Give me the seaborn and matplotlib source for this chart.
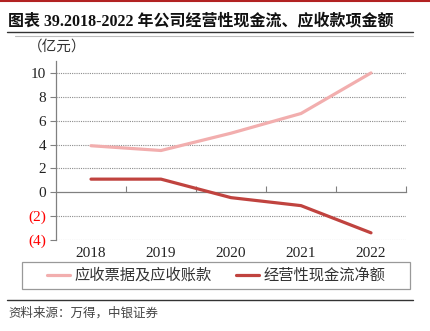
import matplotlib
matplotlib.use("Agg")
import matplotlib.pyplot as plt
import matplotlib.lines as mlines
import matplotlib.patches as mpatches
import seaborn as sns
import pandas as pd

years = ["2018", "2019", "2020", "2021", "2022"]
receivables = [3.9, 3.5, 4.95, 6.6, 10.0]
op_cashflow = [1.1, 1.1, -0.45, -1.12, -3.4]
series_names = ["应收票据及应收账款", "经营性现金流净额"]
y_ticks = [-4, -2, 0, 2, 4, 6, 8, 10]
y_tick_labels = ["(4)", "(2)", "0", "2", "4", "6", "8", "10"]
title = "图表 39.2018-2022 年公司经营性现金流、应收款项金额"
unit_label = "（亿元）"
source = "资料来源：万得，中银证券"

colors = ["#F2AEAE", "#C0433F"]

df = pd.DataFrame({
    "year": years * 2,
    "value": receivables + op_cashflow,
    "series": [series_names[0]] * len(years) + [series_names[1]] * len(years),
})
df["x"] = df["year"].map({y: i for i, y in enumerate(years)})

sns.set_theme(style="white")
plt.rcParams["font.family"] = ["Liberation Serif", "Noto Sans CJK SC"]

fig = plt.figure(figsize=(4.31, 3.31), dpi=100)
ax = fig.add_axes([56 / 431, 1 - 240 / 331, 350 / 431, 179 / 331])

sns.lineplot(data=df, x="x", y="value", hue="series", palette=colors,
             linewidth=2.3, ax=ax, legend=False, sort=False)

ymin, ymax = -4, 11
ax.set_xlim(-0.5, len(years) - 0.5)
ax.set_ylim(ymin, ymax)
ax.set_yticks(y_ticks)
ax.set_yticklabels(y_tick_labels)
for t, v in zip(ax.get_yticklabels(), y_ticks):
    t.set_color("#FF0000" if v < 0 else "#222222")
    t.set_fontsize(11)
ax.set_xticks(range(len(years)))
ax.set_xticklabels(years, fontsize=11, color="#222222")
ax.tick_params(axis="x", length=0, pad=5)
ax.tick_params(axis="y", length=4, width=0.8, color="#808080", pad=3, direction="out", left=True)
ax.set_xlabel("")
ax.set_ylabel("")

for v in y_ticks:
    if v != 0:
        ax.axhline(v, color="#8C8C8C", linewidth=0.8, linestyle=(0, (1, 1)), zorder=0)

for s in ["top", "right", "bottom"]:
    ax.spines[s].set_visible(False)
ax.spines["left"].set_color("#808080")
ax.spines["left"].set_linewidth(0.9)

# zero axis with category-boundary ticks
loc = (0 - ymin) / (ymax - ymin)
sec = ax.secondary_xaxis(loc)
sec.set_xticks([i + 0.5 for i in range(len(years))])
sec.set_xticklabels([""] * len(years))
sec.tick_params(axis="x", length=4, width=0.8, color="#808080", direction="in")
sec.spines["bottom"].set_color("#808080")
sec.spines["bottom"].set_linewidth(0.9)
sec.xaxis.set_ticks_position("bottom")
for s in ["top", "left", "right"]:
    if s in sec.spines:
        sec.spines[s].set_visible(False)

# unit label
fig.text(28 / 431, 1 - 47 / 331, unit_label, fontsize=10.5, color="#333333",
         family=["Noto Sans CJK SC"], va="center", ha="left")

# title and decorations
fig.add_artist(mlines.Line2D([0, 1], [1 - 1 / 331, 1 - 1 / 331], color="#B22222", linewidth=1.5,
                             transform=fig.transFigure))
fig.text(8 / 431, 1 - 21 / 331, title, fontsize=11.5, fontweight="bold", color="#111111",
         family=["Liberation Serif", "Noto Sans CJK SC"], va="center", ha="left")
fig.add_artist(mlines.Line2D([7 / 431, 413 / 431], [1 - 32 / 331, 1 - 32 / 331], color="#333333",
                             linewidth=1.0, transform=fig.transFigure))
fig.add_artist(mlines.Line2D([15 / 431, 413 / 431], [1 - 35.5 / 331, 1 - 35.5 / 331], color="#BBBBBB",
                             linewidth=0.8, transform=fig.transFigure))

# legend
handles = [mlines.Line2D([], [], color=c, linewidth=2.3) for c in colors]
fig.add_artist(mpatches.Rectangle((22 / 431, 1 - 289 / 331), 388 / 431, 27 / 331,
                                  transform=fig.transFigure, fill=False, edgecolor="#999999",
                                  linewidth=0.9))
leg = fig.legend(handles, series_names, loc="center", ncol=2,
                 bbox_to_anchor=(216 / 431, 1 - 275.5 / 331), frameon=False,
                 prop={"family": ["Noto Sans CJK SC"], "size": 11},
                 handlelength=1.5, handletextpad=0.3, columnspacing=1.6)
for t in leg.get_texts():
    t.set_color("#333333")

fig.add_artist(mlines.Line2D([7 / 431, 413 / 431], [1 - 300 / 331, 1 - 300 / 331], color="#333333",
                             linewidth=1.0, transform=fig.transFigure))
fig.text(8 / 431, 1 - 313 / 331, source, fontsize=9, style="italic", color="#444444",
         family=["Noto Sans CJK SC"], va="center", ha="left")

fig.savefig("out.png", dpi=100)
